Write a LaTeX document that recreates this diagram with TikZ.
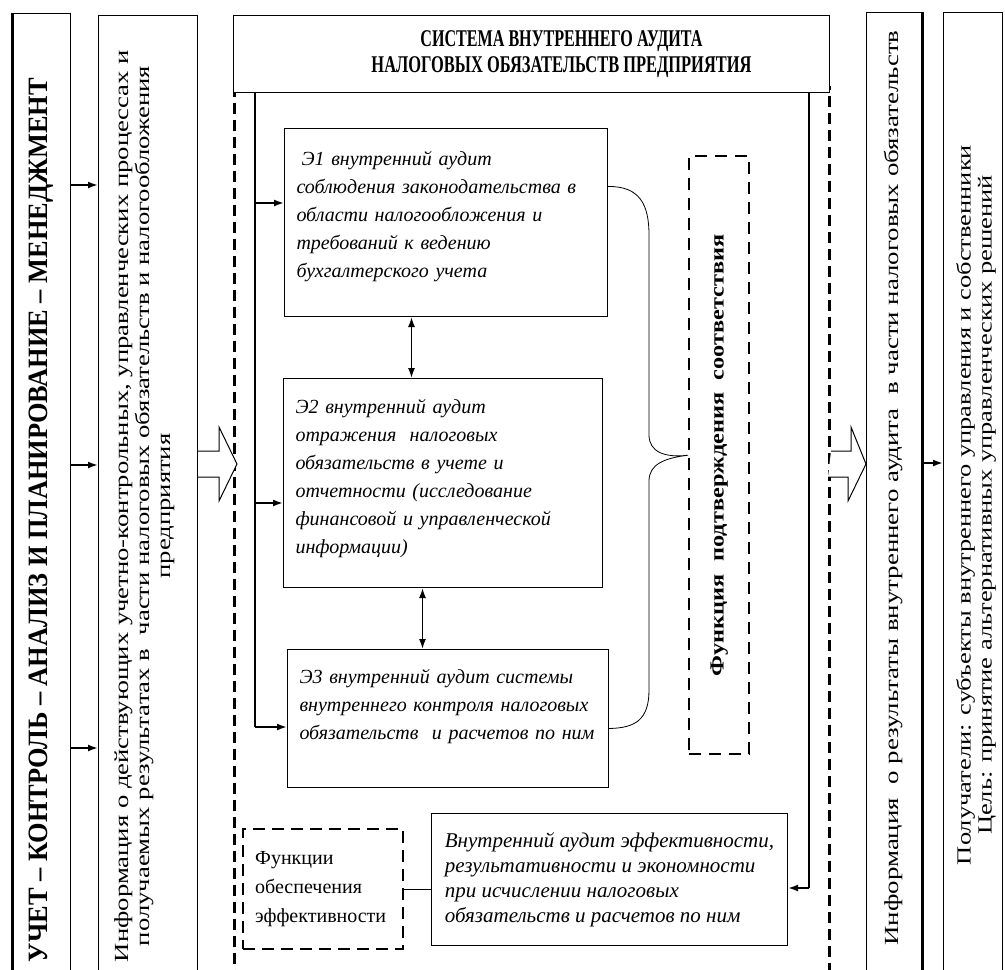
\documentclass[tikz,border=0pt]{standalone}
\usepackage{fontspec}
\setmainfont{Liberation Serif}
\usetikzlibrary{positioning,arrows.meta,calc}
\newcommand{\stretchto}[2]{\resizebox{#1}{\height}{#2}}

\begin{document}
\begin{tikzpicture}[x=1pt,y=-1pt,>={Latex[length=10pt,width=7pt]},
  colbox/.style={draw,line width=1.4pt,anchor=north west,inner sep=0pt},
  coltext/.style={rotate=90,inner sep=0pt,align=center,font=\fontsize{20}{21}\selectfont},
  stagebox/.style={draw,line width=1pt,anchor=north west,inner xsep=12pt,align=left,font=\fontsize{20}{28}\selectfont\itshape},
  dashbox/.style={draw,line width=3pt,dash pattern=on 11pt off 6pt,anchor=north west},
  link/.style={->,line width=1.8pt},
  twoway/.style={<->,line width=1.6pt},
  hollow/.style={draw,line width=1pt,fill=white}]
\useasboundingbox (0,0) rectangle (1005,970);
\fill[white] (0,0) rectangle (1005,970);
\clip (0,0) rectangle (1005,970);

\node[colbox,minimum width=58,minimum height=1000] (uchet) at (12,13) {};
\node[colbox,line width=1pt,minimum width=99,minimum height=1000] (info) at (98,15) {};
\node[colbox,line width=1pt,minimum width=55,minimum height=1000] (res) at (866,12) {};
\node[colbox,minimum width=59,minimum height=1000] (recv) at (943,12) {};
\draw[line width=3pt] (uchet.north west) -- (uchet.south west);
\draw[line width=3pt] (res.north east) -- (res.south east);

\node[coltext,font=\fontsize{28}{30}\selectfont\bfseries] (uchettxt) at (41,520) {\stretchto{884pt}{УЧЕТ – КОНТРОЛЬ – АНАЛИЗ И ПЛАНИРОВАНИЕ – МЕНЕДЖМЕНТ}};
\node[coltext] (infotxt) at (145,506) {\stretchto{912pt}{\begin{tabular}{@{}c@{}}Информация о действующих учетно-контрольных, управленческих процессах и\\ получаемых результатах в\ \ части налоговых обязательств и налогообложения\\ предприятия\end{tabular}}};
\node[coltext] (restxt) at (893,488) {\stretchto{915pt}{Информация\ \ о результаты внутреннего аудита\ \ в части налоговых обязательств}};
\node[coltext] (recvtxt) at (977,505) {\stretchto{720pt}{\begin{tabular}{@{}c@{}}Получатели: субъекты внутреннего управления и собственники\\ Цель: принятие альтернативных управленческих решений\end{tabular}}};

\node[dashbox,minimum width=595,minimum height=920] (sys) at (233,86) {};
\node[colbox,fill=white,line width=1pt,minimum width=596,minimum height=77,align=center,font=\fontsize{24}{26}\selectfont\bfseries] (hdr) at (233,15) {\hspace*{60pt}\stretchto{282pt}{СИСТЕМА ВНУТРЕННЕГО АУДИТА}\\\hspace*{60pt}\stretchto{380pt}{НАЛОГОВЫХ ОБЯЗАТЕЛЬСТВ ПРЕДПРИЯТИЯ}};

\node[stagebox,text width=299,minimum height=188,text depth=128pt] (e1) at (284,128) {\hspace*{5pt}Э1 внутренний аудит\\соблюдения законодательства в\\области налогообложения и\\требований к ведению\\бухгалтерского учета};
\node[stagebox,text width=295,minimum height=209,text depth=154pt] (e2) at (283,378) {Э2 внутренний аудит\\отражения\ \ налоговых\\обязательств в учете и\\отчетности (исследование\\финансовой и управленческой\\информации)};
\node[stagebox,text width=297,minimum height=138,text depth=84pt] (e3) at (287,649) {Э3 внутренний аудит системы\\внутреннего контроля налоговых\\обязательств\ \ и расчетов по ним};
\node[stagebox,font=\fontsize{21}{25}\selectfont\itshape,inner xsep=4pt,minimum width=356,minimum height=132] (eff) at (431,813) {Внутренний аудит эффективности,\\результативности и экономности\\при исчислении налоговых\\обязательств и расчетов по ним};
\node[dashbox,line width=2.4pt,dash pattern=on 12pt off 7pt,minimum height=120,text width=136,inner xsep=12pt,align=left,font=\fontsize{20}{29}\selectfont] (fn) at (242,828) {Функции\\обеспечения\\эффективности};
\node[dashbox,line width=2.4pt,dash pattern=on 12pt off 8pt,minimum width=60,minimum height=598,inner sep=0pt,font=\fontsize{20}{21}\selectfont\bfseries] (conf) at (688,155) {\rotatebox{90}{\stretchto{442pt}{Функция\ \ подтверждения\ \ соответствия}}};

\draw[link] (uchet.east |- 0,185) -- (info.west |- 0,185);
\draw[link] (uchet.east |- 0,465) -- (info.west |- 0,465);
\draw[link] (uchet.east |- 0,748) -- (info.west |- 0,748);
\draw[link] (res.east |- 0,463) -- (recv.west |- 0,463);

\coordinate (h) at (0,464);
\draw[hollow] (info.east |- h) ++(0,-13) -- ++(21,0) -- ++(0,-24) -- ++(18,37) -- ++(-18,37) -- ++(0,-24) -- ++(-21,0);
\draw[hollow] (sys.east |- h) ++(0,-13) -- ++(20,0) -- ++(0,-24) -- (res.west |- h) -- ++(-18,37) -- ++(0,-24) -- ++(-20,0);

\coordinate (s1) at (255,203);
\coordinate (s2) at (255,503);
\coordinate (s3) at (255,727);
\draw[line width=1.6pt] (hdr.south -| s1) -- (s3);
\draw[link] (s1) -- (e1.west |- s1);
\draw[link] (s2) -- (e2.west |- s2);
\draw[link] (s3) -- (e3.west |- s3);

\coordinate (r1) at (809,888);
\draw[line width=1.6pt] (hdr.south -| r1) -- (r1);
\draw[link] (r1) -- (eff.east |- r1);

\draw[twoway] ([xshift=-34.5]e1.south) -- ([xshift=-34.5]e1.south |- e2.north);
\draw[twoway] ([xshift=-20.5]e2.south) -- ([xshift=-20.5]e2.south |- e3.north);

\draw[line width=0.8pt] ([yshift=36]e1.east) .. controls (640,186) and (649,205) .. (649,235) -- (649,435) .. controls (649,452) and (665,458) .. (conf.west) .. controls (665,458) and (649,464) .. (649,481) -- (649,690) .. controls (649,720) and (635,728) .. ([yshift=-10]e3.east);
\draw[line width=1pt] (fn.east) -- (fn.east -| eff.west);
\end{tikzpicture}
\end{document}
